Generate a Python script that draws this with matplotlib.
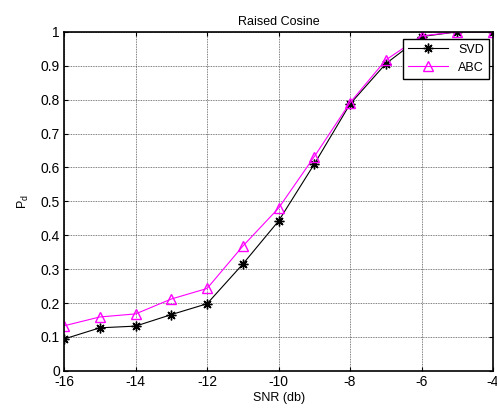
import matplotlib
matplotlib.use('Agg')
import matplotlib.pyplot as plt

plt.rcParams['font.family'] = ['Liberation Sans', 'DejaVu Sans']
plt.rcParams['axes.unicode_minus'] = False

# data
snr = [-16, -15, -14, -13, -12, -11, -10, -9, -8, -7, -6, -5, -4]
pd_svd = [0.094, 0.127, 0.132, 0.166, 0.198, 0.315, 0.442, 0.610, 0.787, 0.906, 0.986, 1.0, 1.0]
pd_abc = [0.133, 0.159, 0.168, 0.212, 0.243, 0.368, 0.480, 0.632, 0.791, 0.917, 0.988, 1.0, 1.0]

fig = plt.figure(figsize=(4.97, 4.08), dpi=100)
ax = fig.add_axes([0.129, 0.091, 0.863, 0.831])

ax.plot(snr, pd_svd, color='black', marker=(8, 2, 0), markersize=7, markeredgewidth=1.0,
        linewidth=0.8, label='SVD')
ax.plot(snr, pd_abc, color='magenta', marker='^', markersize=7, markerfacecolor='none',
        linewidth=0.8, label='ABC')

ax.set_xlim(-16, -4)
ax.set_ylim(0, 1)
ax.set_xticks(range(-16, -3, 2))
ax.set_yticks([i / 10 for i in range(11)])
ax.set_yticklabels(['0', '0.1', '0.2', '0.3', '0.4', '0.5', '0.6', '0.7', '0.8', '0.9', '1'])
ax.tick_params(direction='in', top=True, right=True, labelsize=10, length=3, pad=3)
ax.grid(True, color='#555555', linestyle=(0, (1, 1)), linewidth=0.6)
for s in ax.spines.values():
    s.set_linewidth(1.2)

ax.set_title('Raised Cosine', fontsize=9, pad=5)
ax.set_xlabel('SNR (db)', fontsize=9, labelpad=2)
ax.set_ylabel('P$_\\mathregular{d}$', fontsize=9, labelpad=7)

leg = ax.legend(loc='upper right', bbox_to_anchor=(0.99, 0.98), fontsize=9,
                fancybox=False, framealpha=1, borderaxespad=0, handlelength=3.2)
leg.get_frame().set_edgecolor('black')
leg.get_frame().set_linewidth(1.0)

fig.savefig('out.png', dpi=100)
